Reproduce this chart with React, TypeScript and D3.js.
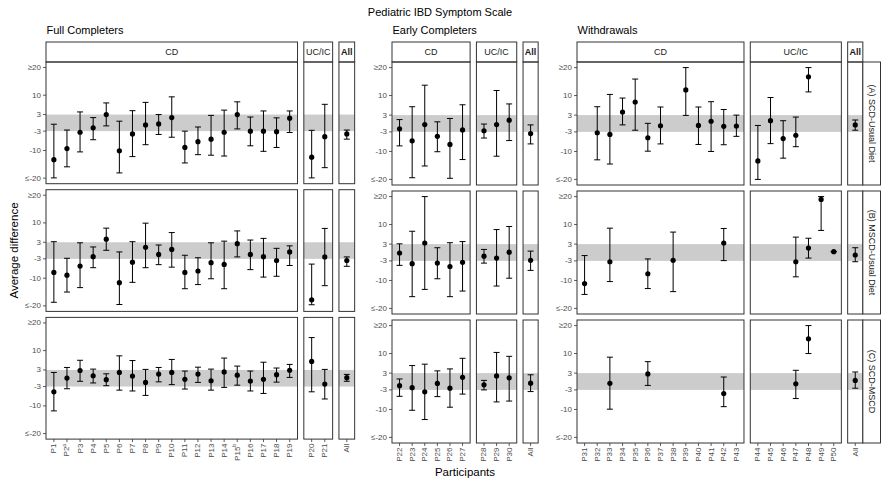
import React from "react";
import * as d3 from "d3";

const participants = ["P1","P2","P3","P4","P5","P6","P7","P8","P9","P10","P11","P12","P13","P14","P15","P16","P17","P18","P19","P20","P21","P22","P23","P24","P25","P26","P27","P28","P29","P30","P31","P32","P33","P34","P35","P36","P37","P38","P39","P40","P41","P42","P43","P44","P45","P46","P47","P48","P49","P50"];
const fullCD = ["P1","P2","P3","P4","P5","P6","P7","P8","P9","P10","P11","P12","P13","P14","P15","P16","P17","P18","P19"];
const fullUC = ["P20","P21"];
const earlyCD = ["P22","P23","P24","P25","P26","P27"];
const earlyUC = ["P28","P29","P30"];
const wdCD = ["P31","P32","P33","P34","P35","P36","P37","P38","P39","P40","P41","P42","P43"];
const wdUC = ["P44","P45","P46","P47","P48","P49","P50"];
const superscripts: Record<string, string> = { P2: "a", P15: "b" };

const yTicks = [-20, -10, -3, 3, 10, 20];
const yTickLabels = ["≤-20", "-10", "-3", "3", "10", "≥20"];
const rowLabels = ["(A) SCD-Usual Diet", "(B) MSCD-Usual Diet", "(C) SCD-MSCD"];
const groupTitles = ["Full Completers", "Early Completers", "Withdrawals"];

// (A) SCD - Usual Diet, P1..P50
const scdUsualMean = [-13.3,-9.3,-3.4,-1.8,3.0,-10.1,-4.0,-0.75,-0.4,1.9,-8.9,-6.8,-5.9,-3.4,3.0,-3.0,-3.0,-3.2,1.7,
  -12.4,-5.0,
  -1.9,-6.2,-0.4,-4.6,-7.5,-2.3,
  -2.6,-0.4,1.2,
  null,-3.3,-3.9,4.1,7.7,-5.1,-0.8,null,12.0,-0.7,0.8,-1.0,-0.9,
  -13.4,1.0,-5.4,-4.2,16.7,null,null];
const scdUsualLower = [-19.9,-15.9,-10.5,-6.1,-1.1,-18.1,-12.2,-7.9,-4.2,-5.2,-14.5,-11.5,-11.7,-12.0,-2.2,-8.3,-10.3,-8.9,-3.5,
  -19.9,-16.2,
  -8.0,-19.4,-15.2,-10.1,-19.6,-12.9,
  -5.2,-11.7,-6.1,
  null,-13.0,-14.5,-0.5,-2.4,-9.9,-7.3,null,2.9,-7.5,-10.0,-7.6,-4.6,
  -20,-7.2,-12.4,-8.3,11.3,null,null];
const scdUsualUpper = [-0.5,-2.6,3.95,1.9,7.2,0.6,4.4,7.4,3.0,9.4,-3.0,-1.5,2.7,4.6,7.6,2.1,4.3,1.8,4.3,
  -2.7,6.7,
  1.4,6.0,13.7,0.6,1.8,6.7,
  -0.2,11.8,7.0,
  null,6.0,10.4,9.1,15.9,0.06,5.9,null,20,5.9,7.8,5.0,3.0,
  -0.7,9.3,1.0,2.3,20,null,null];

// (B) MSCD - Usual Diet
const mscdUsualMean = [-7.9,-8.9,-5.6,-2.2,4.1,-11.6,-4.2,1.2,-1.4,0.4,-7.9,-7.4,-4.4,-5.0,2.5,-1.4,-2.2,-3.6,-0.5,
  -17.8,-2.3,
  -0.2,-4.0,3.4,-3.8,-5.0,-3.5,
  -1.3,-2.0,0.1,
  -11.1,null,-3.3,null,null,-7.6,null,-2.8,null,null,null,3.4,null,
  null,null,null,-3.3,1.6,19.0,0.3];
const mscdUsualLower = [-18.7,-15.0,-13.4,-6.2,0.1,-19.5,-11.5,-6.2,-5.1,-6.0,-13.8,-12.3,-10.2,-13.8,-2.3,-6.9,-9.6,-9.3,-5.4,
  -19.6,-12.7,
  -4.6,-15.8,-13.2,-9.4,-15.8,-13.8,
  -3.8,-12.0,-9.2,
  -15.0,null,-10.4,null,null,-12.9,null,-14.0,null,null,null,-2.9,null,
  null,null,null,-8.7,-2.0,7.9,0.3];
const mscdUsualUpper = [3.2,-2.8,2.8,1.3,8.1,-0.5,3.2,9.9,2.0,6.5,-1.7,-2.6,2.8,3.4,7.1,3.8,4.4,0.8,1.7,
  -4.9,8.0,
  3.1,7.6,20,1.7,3.5,3.9,
  1.1,8.2,9.3,
  -1.1,null,8.7,null,null,-2.3,null,7.3,null,null,null,8.6,null,
  null,null,null,5.5,5.1,20,0.3];

// (C) SCD - MSCD
const scdMscdMean = [-4.9,0.06,2.8,0.9,-0.5,2.1,0.8,-1.5,1.5,2.1,-0.4,1.5,-0.9,2.3,1.1,-1.0,-0.4,1.3,2.9,
  6.1,-2.1,
  -1.5,-2.2,-3.7,-0.7,-2.4,1.5,
  -1.2,2.0,1.3,
  null,null,-0.65,null,null,2.7,null,null,null,null,null,-4.3,null,
  null,null,null,-0.8,15.3,null,null];
const scdMscdLower = [-11.8,-3.8,-1.1,-1.7,-2.7,-4.3,-4.6,-6.2,-1.3,-2.3,-3.9,-1.5,-4.3,-3.3,-2.5,-4.6,-5.5,-1.4,0.3,
  -4.9,-7.5,
  -5.3,-10.3,-13.6,-5.4,-9.2,-4.5,
  -3.0,-7.3,-7.0,
  null,null,-9.9,null,null,-1.4,null,null,null,null,null,-9.0,null,
  null,null,null,-6.1,10.0,null,null];
const scdMscdUpper = [2.1,3.9,6.5,3.3,1.6,8.1,6.4,3.2,3.9,6.8,2.6,4.0,3.3,7.3,4.4,2.6,5.8,3.7,5.0,
  14.7,3.2,
  0.9,5.7,6.2,3.8,4.5,8.3,
  0.4,10.4,9.0,
  null,null,8.7,null,null,7.1,null,null,null,null,null,1.6,null,
  null,null,null,4.0,20,null,null];

// "All" summaries: [Full, Early, Withdrawals]
const allScdUsualMean = [-4.0, -3.6, -0.5];
const allScdUsualLower = [-5.9, -7.3, -2.4];
const allScdUsualUpper = [-2.6, -0.5, 1.25];
const allMscdUsualMean = [-3.6, -2.8, -0.9];
const allMscdUsualLower = [-5.7, -6.4, -3.3];
const allMscdUsualUpper = [-2.3, 0.5, 1.7];
const allScdMscdMean = [0.2, -0.6, 0.4];
const allScdMscdLower = [-1.1, -3.6, -2.4];
const allScdMscdUpper = [1.4, 2.4, 3.4];

const rowsData = [
  { mean: scdUsualMean, lower: scdUsualLower, upper: scdUsualUpper, allMean: allScdUsualMean, allLower: allScdUsualLower, allUpper: allScdUsualUpper },
  { mean: mscdUsualMean, lower: mscdUsualLower, upper: mscdUsualUpper, allMean: allMscdUsualMean, allLower: allMscdUsualLower, allUpper: allMscdUsualUpper },
  { mean: scdMscdMean, lower: scdMscdLower, upper: scdMscdUpper, allMean: allScdMscdMean, allLower: allScdMscdLower, allUpper: allScdMscdUpper },
];

const groups = [
  { x0: 46, step: 13.1, rowH: 121.7, facets: [["CD", fullCD], ["UC/IC", fullUC], ["All", ["All"]]] as [string, string[]][], rowStrip: false },
  { x0: 392, step: 12.6, rowH: 123, facets: [["CD", earlyCD], ["UC/IC", earlyUC], ["All", ["All"]]] as [string, string[]][], rowStrip: false },
  { x0: 577, step: 12.65, rowH: 123, facets: [["CD", wdCD], ["UC/IC", wdUC], ["All", ["All"]]] as [string, string[]][], rowStrip: true },
];

const FONT = "'Liberation Sans', Arial, Helvetica, sans-serif";
const TOP = 62;
const ROW_GAP = 6;
const FACET_GAP = 6.3;
const STRIP_H = 20;

export default function App() {
  const els: React.ReactNode[] = [];
  let key = 0;
  const k = () => key++;

  groups.forEach((g, gi) => {
    // facet x extents
    let cx = g.x0;
    const facets = g.facets.map(([name, cats]) => {
      const w = g.step * (cats.length + 0.2);
      const f = { name, cats, x0: cx, x1: cx + w };
      cx += w + FACET_GAP;
      return f;
    });
    const gx1 = facets[facets.length - 1].x1;

    // group title
    els.push(<text key={k()} x={g.x0 + 0.5} y={34} fontSize={11} fill="#000">{groupTitles[gi]}</text>);

    // strips on top
    facets.forEach((f) => {
      els.push(<rect key={k()} x={f.x0} y={TOP - STRIP_H} width={f.x1 - f.x0} height={STRIP_H} fill="#fff" stroke="#333" strokeWidth={1} />);
      els.push(<text key={k()} x={(f.x0 + f.x1) / 2} y={TOP - STRIP_H / 2} textAnchor="middle" dominantBaseline="central" fontSize={9} fontWeight={f.name === "All" ? "bold" : "normal"} fill="#1a1a1a">{f.name}</text>);
    });

    rowsData.forEach((rd, ri) => {
      const top = TOP + ri * (g.rowH + ROW_GAP);
      const bottom = top + g.rowH;
      const y = d3.scaleLinear().domain([-22, 22]).range([bottom, top]);
      const cl = (v: number) => y(Math.max(-20, Math.min(20, v)));

      facets.forEach((f, fi) => {
        const x = d3.scalePoint<string>().domain(f.cats).range([f.x0, f.x1]).padding(0.6);
        // band
        els.push(<rect key={k()} x={f.x0} y={y(3)} width={f.x1 - f.x0} height={y(-3) - y(3)} fill="#cccccc" />);
        // marks
        f.cats.forEach((c) => {
          let m: number | null, lo: number | null, hi: number | null;
          if (c === "All") {
            m = rd.allMean[gi]; lo = rd.allLower[gi]; hi = rd.allUpper[gi];
          } else {
            const idx = participants.indexOf(c);
            m = rd.mean[idx]; lo = rd.lower[idx]; hi = rd.upper[idx];
          }
          if (m == null) return;
          const px = x(c)!;
          if (lo != null && hi != null) {
            const yl = cl(lo), yh = cl(hi);
            els.push(<line key={k()} x1={px} x2={px} y1={yl} y2={yh} stroke="#000" strokeWidth={1} />);
            els.push(<line key={k()} x1={px - 3} x2={px + 3} y1={yl} y2={yl} stroke="#000" strokeWidth={1} />);
            els.push(<line key={k()} x1={px - 3} x2={px + 3} y1={yh} y2={yh} stroke="#000" strokeWidth={1} />);
          }
          els.push(<circle key={k()} cx={px} cy={cl(m)} r={2.6} fill="#000" />);
        });
        // border
        els.push(<rect key={k()} x={f.x0} y={top} width={f.x1 - f.x0} height={g.rowH} fill="none" stroke="#333" strokeWidth={1} />);

        // y axis on first facet
        if (fi === 0) {
          yTicks.forEach((t, ti) => {
            els.push(<line key={k()} x1={f.x0 - 3} x2={f.x0} y1={y(t)} y2={y(t)} stroke="#333" strokeWidth={0.8} />);
            els.push(<text key={k()} x={f.x0 - 5} y={y(t)} textAnchor="end" dominantBaseline="central" fontSize={8} fill="#4d4d4d">{yTickLabels[ti]}</text>);
          });
        }
        // x axis on last row
        if (ri === rowsData.length - 1) {
          f.cats.forEach((c) => {
            const px = x(c)!;
            els.push(<line key={k()} x1={px} x2={px} y1={bottom} y2={bottom + 3} stroke="#333" strokeWidth={0.8} />);
            els.push(
              <text key={k()} transform={`translate(${px},${bottom + 4.5}) rotate(-90)`} textAnchor="end" dominantBaseline="central" fontSize={8} fill="#4d4d4d">
                {c}
                {superscripts[c] ? <tspan fontSize={5.5} dy={-3}>{superscripts[c]}</tspan> : null}
              </text>
            );
          });
        }
      });

      // row strip
      if (g.rowStrip) {
        const sx0 = gx1, sx1 = 880.5;
        els.push(<rect key={k()} x={sx0} y={top} width={sx1 - sx0} height={g.rowH} fill="#fff" stroke="#333" strokeWidth={1} />);
        els.push(<text key={k()} transform={`translate(${(sx0 + sx1) / 2},${(top + bottom) / 2}) rotate(90)`} textAnchor="middle" dominantBaseline="central" fontSize={9} fill="#1a1a1a">{rowLabels[ri]}</text>);
      }
    });
  });

  return (
    <svg width={881} height={480} style={{ position: "absolute", left: 0, top: 0 }} fontFamily={FONT}>
      <rect x={0} y={0} width={881} height={480} fill="#fff" />
      <text x={440} y={16} textAnchor="middle" fontSize={11} fill="#000">Pediatric IBD Symptom Scale</text>
      {els}
      <text transform="translate(18,250.5) rotate(-90)" textAnchor="middle" fontSize={11.5} fill="#000">Average difference</text>
      <text x={465} y={476} textAnchor="middle" fontSize={11.5} fill="#000">Participants</text>
    </svg>
  );
}
